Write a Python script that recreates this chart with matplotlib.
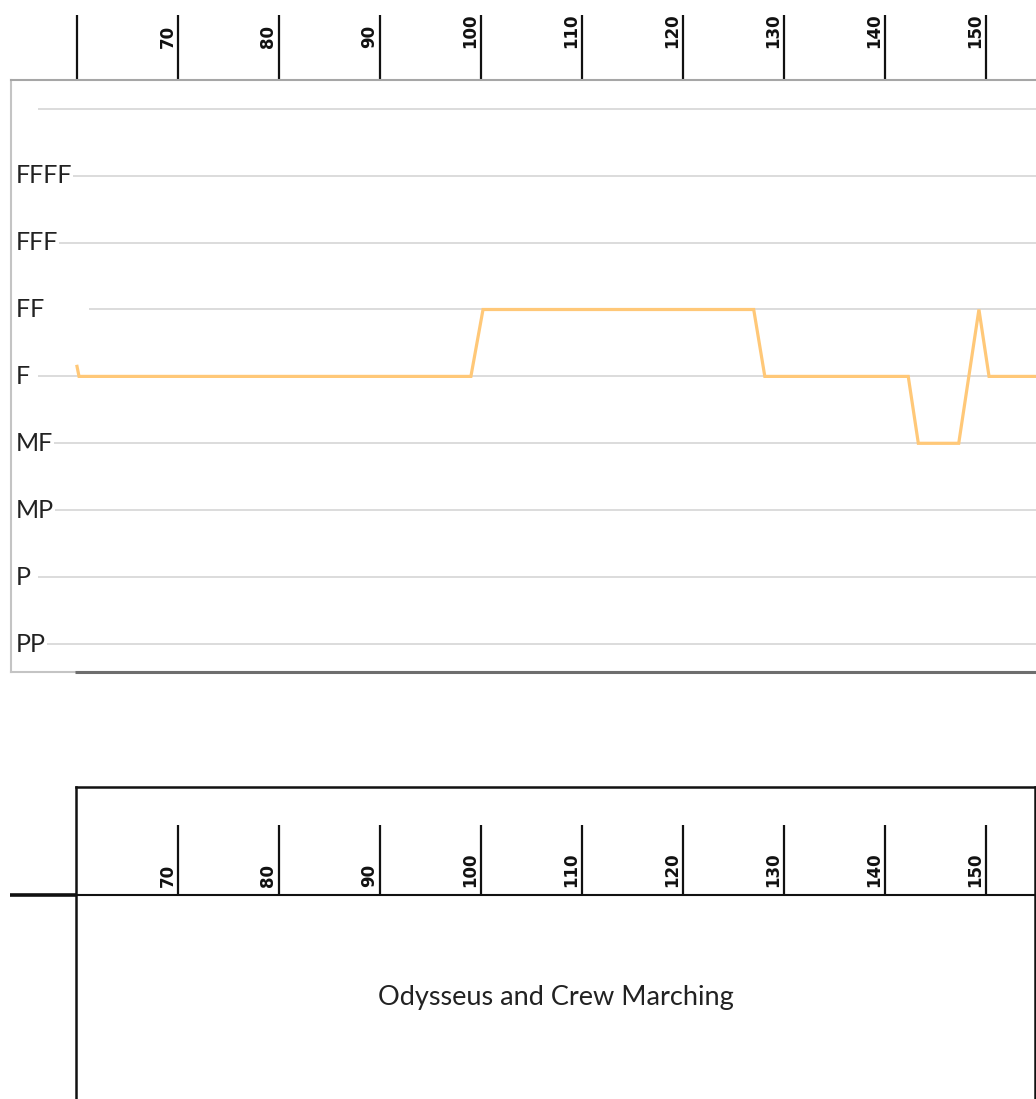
import matplotlib
matplotlib.use("Agg")
import matplotlib.pyplot as plt

# ---- data ----
measures = [60, 60.2, 99, 100.2, 127, 128.1, 142.3, 143.3, 147.3, 149.3, 150.3, 155]
levels = [5.15, 5, 5, 6, 6, 5, 5, 4, 4, 6, 5, 5]
level_names = ["PP", "P", "MP", "MF", "F", "FF", "FFF", "FFFF"]
level_values = [1, 2, 3, 4, 5, 6, 7, 8]
grid_values = [1, 2, 3, 4, 5, 6, 7, 8, 9]
tick_values = [60, 70, 80, 90, 100, 110, 120, 130, 140, 150]
tick_labels = ["", "70", "80", "90", "100", "110", "120", "130", "140", "150"]
section_label = "Odysseus and Crew Marching"

W, H = 1036, 1099
fig = plt.figure(figsize=(W / 100, H / 100), dpi=100)
fig.patch.set_facecolor("white")

PPU = 10.1  # pixels per measure
X0PX = 77   # pixel of measure 60


def fx(px):
    return 60 + (px - X0PX) / PPU


# ---- main dynamics panel ----
ax_l, ax_r, ax_t, ax_b = 11, 1040, 80, 672
ax = fig.add_axes([ax_l / W, 1 - ax_b / H, (ax_r - ax_l) / W, (ax_b - ax_t) / H])
ax.set_xlim(fx(ax_l), fx(ax_r))
yppu = 66.9
ax.set_ylim(1 - (ax_b - 644) / yppu, 1 + (644 - ax_t) / yppu)
ax.set_xticks([])
ax.set_yticks([])
ax.spines["right"].set_visible(False)
ax.spines["top"].set_color("#a6a6a6")
ax.spines["left"].set_color("#c4c4c4")
ax.spines["bottom"].set_color("#c4c4c4")
for s in ["top", "left", "bottom"]:
    ax.spines[s].set_linewidth(1.5)

ax.hlines(grid_values, fx(38), fx(ax_r), color="#d9d9d9", lw=1.3, zorder=1)
ax.plot(measures, levels, color="#ffc878", lw=2.3, zorder=3, solid_joinstyle="miter")

name_font = "Lato"
for name, v in zip(level_names, level_values):
    label = name + "       " if name == "FF" else name
    ax.text(fx(16), v, label, ha="left", va="center", fontsize=18,
            family=name_font, color="#222222", zorder=4,
            bbox=dict(facecolor="white", edgecolor="none", pad=0.3))

xt = ax.get_xaxis_transform()
ax_h = ax_b - ax_t
ax.hlines(0, fx(75), fx(ax_r), transform=xt, color="#6e6e6e", lw=2.2,
          clip_on=False, zorder=5)
ax.vlines(tick_values, 1, 1 + 65 / ax_h, transform=xt, color="#111111",
          lw=1.6, clip_on=False)
for t, lab in zip(tick_values, tick_labels):
    if lab:
        ax.text(t - 0.15, 1 + 32 / ax_h, lab, rotation=90, ha="right",
                va="bottom", transform=xt, fontsize=12, fontweight="bold",
                family="DejaVu Sans", color="#111111", clip_on=False)

# ---- section panel ----
b_l, b_r, b_t, b_b = 76, 1035, 787, 1110
ax2 = fig.add_axes([b_l / W, 1 - b_b / H, (b_r - b_l) / W, (b_b - b_t) / H])
ax2.set_xlim(fx(b_l), fx(b_r))
ax2.set_ylim(0, 1)
ax2.set_xticks([])
ax2.set_yticks([])
for s in ax2.spines.values():
    s.set_color("#111111")
    s.set_linewidth(1.8)
bh = b_b - b_t
x2t = ax2.get_xaxis_transform()
yline = (b_b - 895) / bh
ax2.plot([fx(10), fx(b_l)], [yline, yline], transform=x2t, color="#111111",
         lw=2.6, clip_on=False, solid_capstyle="butt")
ax2.plot([fx(b_l), fx(b_r)], [yline, yline], transform=x2t, color="#111111",
         lw=1.5, clip_on=False)
ax2.vlines(tick_values[1:], yline, (b_b - 825) / bh, transform=x2t,
           color="#111111", lw=1.6)
for t, lab in zip(tick_values, tick_labels):
    if lab:
        ax2.text(t - 0.15, (b_b - 887) / bh, lab, rotation=90, ha="right",
                 va="bottom", transform=x2t, fontsize=12, fontweight="bold",
                 family="DejaVu Sans", color="#111111")
ax2.text(0.5, (b_b - 997) / bh, section_label, ha="center", va="center",
         transform=ax2.transAxes, fontsize=19.5, family=name_font, color="#222222")

fig.savefig("out.png", dpi=100, facecolor="white")
